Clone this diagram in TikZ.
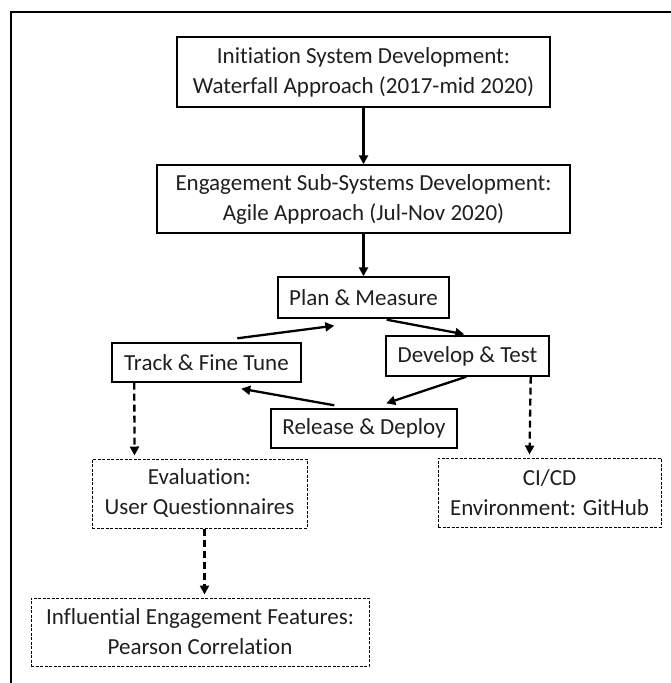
\documentclass[tikz,border=0pt]{standalone}
\usepackage{fontspec}
\setmainfont{Carlito}[Ligatures={NoCommon,NoContextual}]
\usetikzlibrary{arrows.meta}
\definecolor{txt}{rgb}{0.12,0.12,0.12}
\tikzset{
  box/.style={draw=black, line width=1.4pt, inner sep=0pt, align=center, text=txt,
    font=\fontsize{23}{30}\selectfont},
  dbox/.style={box, line width=1pt, dash pattern=on 3pt off 1.5pt},
  arr/.style={draw=black, line width=2.3pt, -{Triangle[length=9pt,width=9pt]}},
  darr/.style={arr, dash pattern=on 7pt off 4pt}
}
\begin{document}
\begin{tikzpicture}[x=1pt,y=-1pt]
\useasboundingbox (0,0) rectangle (670,683);
\fill[white] (0,0) rectangle (670,683);
\draw[line width=1.6pt] (11,690) -- (11,12) -- (680,12);

\node[box, minimum width=373pt, minimum height=70pt] (init) at (363.5,72)
  {Initiation System Development:\\Waterfall Approach (2017-mid 2020)};
\node[box, minimum width=413pt, minimum height=68pt] (eng) at (363.5,199)
  {Engagement Sub-Systems Development:\\Agile Approach (Jul-Nov 2020)};
\node[box, minimum width=171pt, minimum height=41pt] (plan) at (363.5,297.5) {Plan \& Measure};
\node[box, minimum width=189pt, minimum height=39pt] (track) at (206.5,362.5) {Track \& Fine Tune};
\node[box, minimum width=163pt, minimum height=40pt] (dev) at (467.5,356) {Develop \& Test};
\node[box, minimum width=186pt, minimum height=39pt] (rel) at (364,428.5) {Release \& Deploy};
\node[dbox, minimum width=215pt, minimum height=69pt] (eval) at (199.5,493.5)
  {Evaluation:\\User Questionnaires};
\node[dbox, minimum width=223pt, minimum height=69pt] (cicd) at (549.5,492.5)
  {CI/CD\\Environment: GitHub};
\node[dbox, minimum width=338pt, minimum height=68pt] (infl) at (200,632)
  {Influential Engagement Features:\\Pearson Correlation};

\draw[arr] (init.south) -- (eng.north);
\draw[arr] (eng.south) -- (plan.north);
\draw[arr] ([shift={(126pt,4pt)}]track.north west) -- ([shift={(57pt,-7pt)}]plan.south west);
\draw[arr] ([shift={(-63pt,-1pt)}]plan.south east) -- ([shift={(79pt,1pt)}]dev.north west);
\draw[arr] ([shift={(81pt,0pt)}]dev.south west) -- ([shift={(116pt,5pt)}]rel.north west);
\draw[arr] ([shift={(64pt,3pt)}]rel.north west) -- ([shift={(130pt,-6pt)}]track.south west);

\draw[darr] ([xshift=23pt]track.south west) -- ([shift={(43pt,3pt)}]eval.north west);
\draw[darr] ([xshift=-19pt]dev.south east) -- ([shift={(92pt,3pt)}]cicd.north west);
\draw[darr] ([xshift=113pt]eval.south west) -- ([shift={(174pt,3pt)}]infl.north west);
\end{tikzpicture}
\end{document}
